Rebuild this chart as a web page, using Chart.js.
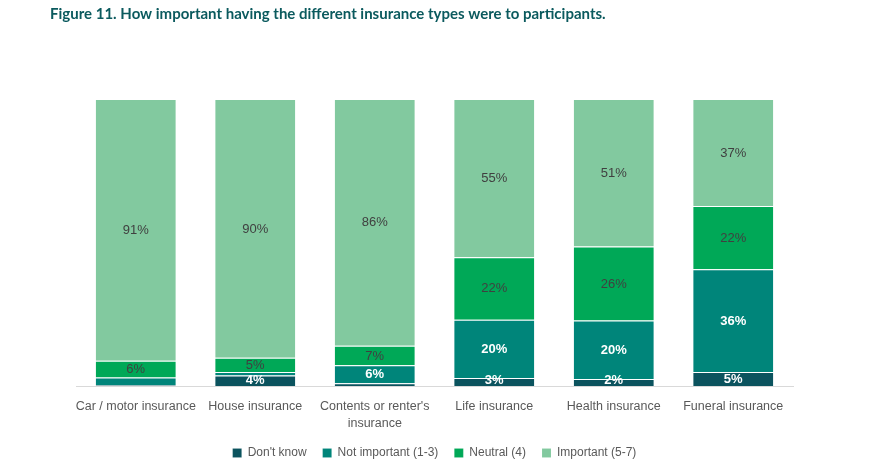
<!DOCTYPE html>
<html>
<head>
<meta charset="utf-8">
<script src="https://cdn.jsdelivr.net/npm/chart.js@4/dist/chart.umd.min.js"></script>
<style>
html,body{margin:0;padding:0;background:#fff;}
#wrap{width:886px;height:476px;position:relative;}
</style>
</head>
<body>
<div id="wrap"><canvas id="c" width="886" height="476"></canvas></div>
<script>
const titleText = 'Figure 11. How important having the different insurance types were to participants.';
const categories = ['Car / motor insurance', 'House insurance', ["Contents or renter's", 'insurance'], 'Life insurance', 'Health insurance', 'Funeral insurance'];
const seriesNames = ["Don't know", 'Not important (1-3)', 'Neutral (4)', 'Important (5-7)'];
// estimated unrounded shares (labels show them rounded)
const dontKnow     = [0.3, 3.7, 1.0, 2.8, 2.4, 4.9];
const notImportant = [2.7, 1.2, 6.2, 20.3, 20.4, 35.8];
const neutral      = [5.8, 4.9, 6.8, 21.8, 25.8, 22.0];
const important    = [91.2, 90.2, 86.0, 55.1, 51.4, 37.3];
// segments whose label is not printed in the reference (dataset index, category index)
const unlabelled = [[0,0],[1,0],[1,1],[0,2]];

const colors = ['#0b535e', '#00857a', '#00a857', '#82c99f'];
const labelColors = ['#ffffff', '#ffffff', '#404040', '#404040'];
const labelWeights = ['bold', 'bold', 'normal', 'normal'];
const values = [dontKnow, notImportant, neutral, important];

const datasets = values.map((v, i) => ({
  label: seriesNames[i],
  data: v,
  backgroundColor: colors[i],
  borderColor: 'rgba(255,255,255,0.45)',
  borderWidth: {top: 1, left: 0, right: 0, bottom: 0},
  borderSkipped: 'start',
  barPercentage: 0.67,
  categoryPercentage: 1.0
}));

const labelPlugin = {
  id: 'segLabels',
  afterDatasetsDraw(chart) {
    const ctx = chart.ctx;
    ctx.save();
    ctx.textAlign = 'center';
    ctx.textBaseline = 'middle';
    chart.data.datasets.forEach((ds, di) => {
      const meta = chart.getDatasetMeta(di);
      meta.data.forEach((bar, i) => {
        if (unlabelled.some(p => p[0] === di && p[1] === i)) return;
        const v = ds.data[i];
        if (!v) return;
        const props = bar.getProps(['x', 'y', 'base'], true);
        const cy = Math.min((props.y + props.base) / 2, props.base - 6);
        ctx.fillStyle = labelColors[di];
        ctx.font = labelWeights[di] + ' 13px "Liberation Sans", Arial, sans-serif';
        ctx.fillText(Math.round(v) + '%', props.x, cy + 0.5);
      });
    });
    ctx.restore();
  }
};

new Chart(document.getElementById('c'), {
  type: 'bar',
  data: { labels: categories, datasets },
  plugins: [labelPlugin],
  options: {
    responsive: false,
    animation: false,
    devicePixelRatio: 1,
    layout: { padding: { left: 50, right: 93, top: 5, bottom: 7 } },
    plugins: {
      title: {
        display: true,
        text: titleText,
        align: 'start',
        color: '#0b5a5e',
        font: { family: 'Lato, sans-serif', size: 15, weight: 'bold' },
        padding: { top: 0, bottom: 76 }
      },
      legend: {
        position: 'bottom',
        fullSize: false,
        labels: {
          boxWidth: 9,
          boxHeight: 9,
          padding: 16,
          color: '#595959',
          font: { family: '"Liberation Sans", Arial, sans-serif', size: 12 }
        }
      },
      tooltip: { enabled: false }
    },
    scales: {
      x: {
        stacked: true,
        grid: { display: false },
        border: { display: true, color: '#d9d9d9', width: 1 },
        ticks: {
          color: '#595959',
          padding: 4,
          maxRotation: 0,
          autoSkip: false,
          font: { family: '"Liberation Sans", Arial, sans-serif', size: 12.5, lineHeight: 1.35 }
        },
        afterFit(scale) { scale.height = 45; }
      },
      y: {
        stacked: true,
        min: 0,
        max: 100,
        display: true,
        grid: { display: false },
        border: { display: false },
        ticks: { display: false },
        afterFit(scale) { scale.width = 26; }
      }
    }
  }
});
</script>
</body>
</html>
